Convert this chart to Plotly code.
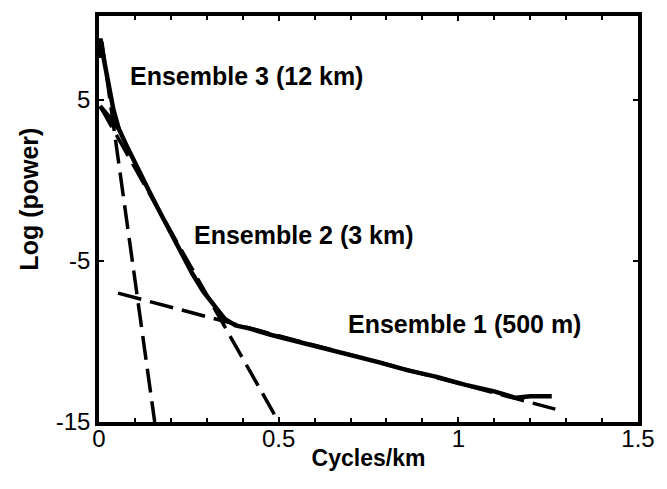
import plotly.graph_objects as go

# ---- data ----
x_tickvals = [0, 0.5, 1, 1.5]
x_ticktext = ["0", "0.5", "1", "1.5"]
y_tickvals = [5, -5, -15]
y_ticktext = ["5", "-5", "-15"]

# Ensemble 3 spectrum (solid, low-frequency spike)
e3_x = [0.000, 0.004, 0.012, 0.025, 0.040, 0.055]
e3_y = [7.6, 8.8, 7.7, 6.0, 4.4, 3.2]

# Ensemble 2 + Ensemble 1 spectrum (solid)
spec_x = [0.003, 0.010, 0.030, 0.055, 0.080, 0.110, 0.140, 0.170, 0.200, 0.230,
          0.260, 0.290, 0.320, 0.350, 0.380, 0.420, 0.480, 0.550, 0.620, 0.700,
          0.780, 0.860, 0.940, 1.020, 1.100, 1.160, 1.200, 1.260]
spec_y = [4.6, 4.4, 3.9, 3.2, 2.0, 0.6, -0.7, -2.0, -3.3, -4.6,
          -5.8, -6.9, -7.8, -8.6, -9.0, -9.2, -9.6, -10.0, -10.4, -10.8,
          -11.3, -11.8, -12.2, -12.7, -13.1, -13.5, -13.4, -13.4]

# Straight-line fits (dashed)
fit3_x = [0.008, 0.155]
fit3_y = [8.6, -15.0]
fit2_x = [0.003, 0.500]
fit2_y = [4.6, -15.0]
fit1_x = [0.053, 1.270]
fit1_y = [-7.0, -14.2]

labels = ["Ensemble 3 (12 km)", "Ensemble 2 (3 km)", "Ensemble 1 (500 m)"]
label_x = [0.081, 0.26, 0.687]
label_y = [6.5, -3.4, -8.9]

fig = go.Figure()
solid = dict(color="black", width=4.5)
dashed = dict(color="black", width=3.5, dash="24px,9px")

fig.add_trace(go.Scatter(x=fit3_x, y=fit3_y, mode="lines", line=dashed))
fig.add_trace(go.Scatter(x=fit2_x, y=fit2_y, mode="lines", line=dashed))
fig.add_trace(go.Scatter(x=fit1_x, y=fit1_y, mode="lines", line=dashed))
fig.add_trace(go.Scatter(x=e3_x, y=e3_y, mode="lines", line=solid))
fig.add_trace(go.Scatter(x=spec_x, y=spec_y, mode="lines", line=solid))

for t, lx, ly in zip(labels, label_x, label_y):
    fig.add_annotation(x=lx, y=ly, text=t, showarrow=False, xanchor="left",
                       yanchor="middle",
                       font=dict(family="Liberation Sans", size=25, color="black",
                                 weight="bold"))

fig.add_annotation(xref="paper", yref="paper", x=-0.13, y=0.55,
                   text="Log (power)", textangle=-90, showarrow=False,
                   xanchor="center", yanchor="middle",
                   font=dict(family="Liberation Sans", size=25, color="black",
                             weight="bold"))

fig.update_layout(
    width=667, height=489,
    margin=dict(l=99, r=27, t=12, b=67),
    paper_bgcolor="white", plot_bgcolor="white",
    showlegend=False,
    font=dict(family="Liberation Sans", color="black"),
    xaxis=dict(range=[0, 1.5], tickvals=x_tickvals, ticktext=x_ticktext,
               showgrid=False, zeroline=False, showline=True, linecolor="black",
               linewidth=3.5, mirror="allticks", ticks="inside", ticklen=5,
               tickwidth=2, tickcolor="black", ticklabelstandoff=-8,
               minor=dict(dtick=0.1, ticks="inside", ticklen=4, tickwidth=2,
                          tickcolor="black", showgrid=False),
               tickfont=dict(size=24, color="black"),
               title=dict(text="<b>Cycles/km</b>", standoff=0,
                          font=dict(size=23, color="black"))),
    yaxis=dict(range=[-15, 10.2], tickvals=y_tickvals, ticktext=y_ticktext,
               showgrid=False, zeroline=False, showline=True, linecolor="black",
               linewidth=3.5, mirror="allticks", ticks="inside", ticklen=5,
               tickwidth=2, tickcolor="black",
               tickfont=dict(size=24, color="black")),
)

fig.write_html("out.html")
